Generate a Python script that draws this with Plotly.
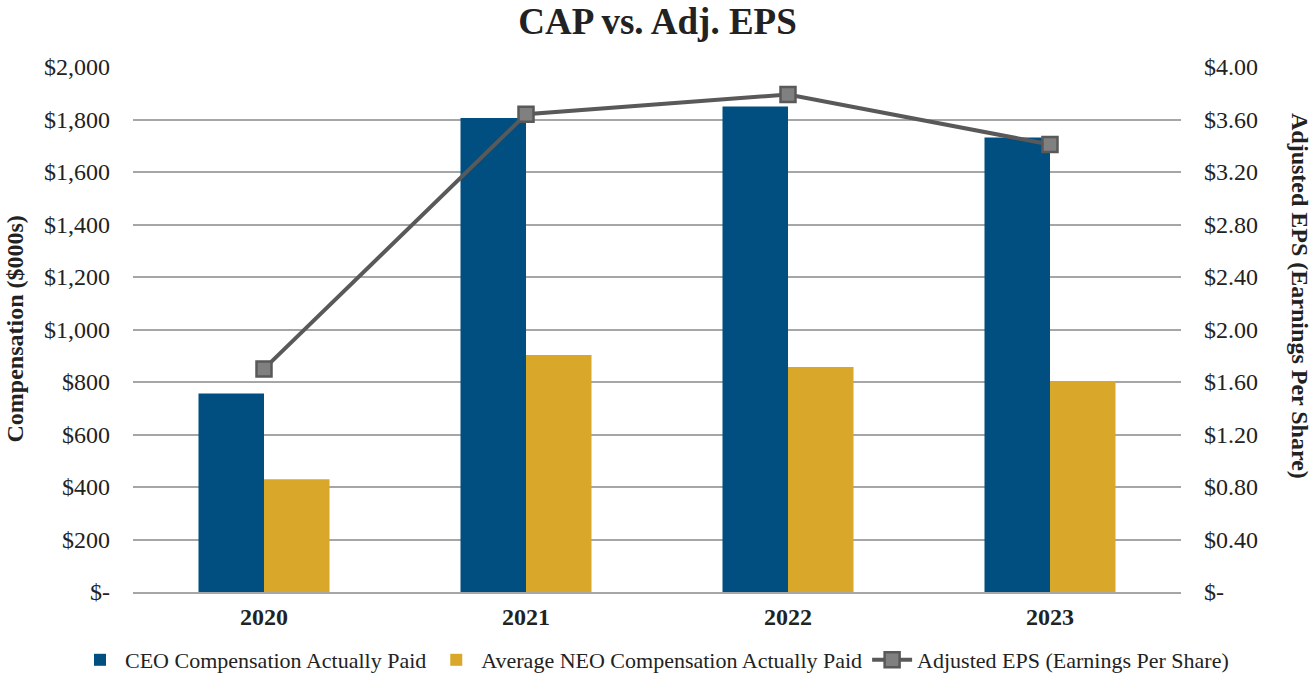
import plotly.graph_objects as go

years = ["2020", "2021", "2022", "2023"]
ceo_cap = [756, 1806, 1850, 1731]
neo_cap = [430, 903, 857, 804]
adj_eps = [1.70, 3.64, 3.79, 3.41]

left_ticks = [0, 200, 400, 600, 800, 1000, 1200, 1400, 1600, 1800, 2000]
left_labels = ["$-", "$200", "$400", "$600", "$800", "$1,000", "$1,200", "$1,400", "$1,600", "$1,800", "$2,000"]
right_ticks = [0, 0.4, 0.8, 1.2, 1.6, 2.0, 2.4, 2.8, 3.2, 3.6, 4.0]
right_labels = ["$-", "$0.40", "$0.80", "$1.20", "$1.60", "$2.00", "$2.40", "$2.80", "$3.20", "$3.60", "$4.00"]

FONT = "Liberation Serif, Times New Roman, serif"
TXT = "#222222"

fig = go.Figure()
fig.add_trace(go.Bar(x=years, y=ceo_cap, name="CEO Compensation Actually Paid",
                     marker=dict(color="#004f80", line=dict(width=0))))
fig.add_trace(go.Bar(x=years, y=neo_cap, name="Average NEO Compensation Actually Paid",
                     marker=dict(color="#d9a82a", line=dict(width=0))))
fig.add_trace(go.Scatter(x=years, y=adj_eps, name="Adjusted EPS (Earnings Per Share)",
                         yaxis="y2", mode="lines+markers",
                         line=dict(color="#595959", width=4),
                         marker=dict(symbol="square", size=15, color="#808080",
                                     line=dict(color="#595959", width=2.5))))

fig.update_layout(
    width=1315, height=675,
    paper_bgcolor="white", plot_bgcolor="white",
    margin=dict(l=133, r=134, t=67, b=83, autoexpand=False),
    font=dict(family=FONT, color=TXT, size=24),
    title=dict(text="<b>CAP vs. Adj. EPS</b>", x=0.5, xanchor="center",
               y=1 - 21 / 675, yanchor="middle", font=dict(size=37, color=TXT, family=FONT)),
    barmode="group", bargap=0.5, bargroupgap=0,
    xaxis=dict(showgrid=False, showline=True, linecolor="#a6a6a6", linewidth=2,
               automargin=False,
               tickfont=dict(size=24, family=FONT, color=TXT),
               ticklabelstandoff=2,
               tickprefix="<b>", ticksuffix="</b>"),
    yaxis=dict(range=[0, 2000], tickvals=left_ticks, ticktext=left_labels,
               showgrid=True, gridcolor="#a6a6a6", gridwidth=2, zeroline=False,
               automargin=False,
               tickfont=dict(size=24, family=FONT, color=TXT),
               ticks="", ticklabelstandoff=22),
    yaxis2=dict(range=[0, 4], tickvals=right_ticks, ticktext=right_labels,
                overlaying="y", side="right", showgrid=False, zeroline=False,
                automargin=False,
                tickfont=dict(size=24, family=FONT, color=TXT),
                ticklabelstandoff=22),
    legend=dict(orientation="h", x=(75 - 133) / 1048, xanchor="left",
                y=(592 - 660) / 525, yanchor="middle",
                font=dict(size=22, family=FONT, color=TXT),
                traceorder="normal", itemwidth=40, tracegroupgap=0),
    showlegend=True,
)

fig.add_annotation(text="<b>Compensation ($000s)</b>", xref="paper", yref="paper",
                   x=(14 - 133) / 1048, y=0.5, xanchor="center", yanchor="middle",
                   textangle=-90, showarrow=False,
                   font=dict(size=24, family=FONT, color=TXT))
fig.add_annotation(text="<b>Adjusted EPS (Earnings Per Share)</b>", xref="paper", yref="paper",
                   x=(1300 - 133) / 1048, y=(592 - 296) / 525, xanchor="center", yanchor="middle",
                   textangle=90, showarrow=False,
                   font=dict(size=24, family=FONT, color=TXT))

fig.write_html("out.html", config={"displayModeBar": False},
               post_script="document.body.style.margin='0';document.body.style.padding='0';"
                           "document.body.style.overflow='hidden';")
